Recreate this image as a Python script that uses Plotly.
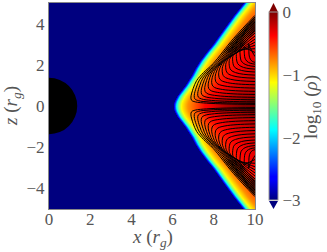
import numpy as np
import plotly.graph_objects as go

# --- values ---
x_ticks = [0, 2, 4, 6, 8, 10]
z_ticks = [-4, -2, 0, 2, 4]
cbar_ticks = [-3, -2, -1, 0]
horizon_radius = 1.37

# torus surface: height above midplane -> x where density leaves the floor
edge_z = [0, .12, .25, .37, .5, .62, .75, .87, 1, 1.25, 1.5, 1.85, 2.2, 2.6, 3, 3.66, 4.39, 5]
edge_x = [6.02, 6.03, 6.07, 6.13, 6.2, 6.29, 6.39, 6.48, 6.58, 6.74, 6.9, 7.08, 7.3, 7.6, 7.93, 8.4, 8.93, 9.42]

# density with horizontal distance inside the surface
depth = [0, .02, .08, .15, .25, .4, .7, 1.0, 1.5, 2.5, 4]
log_rho_depth = [-3, -2.8, -2.4, -1.9, -1.5, -1.1, -.8, -.65, -.45, -.3, -.2]

# extra density near the midplane, by height
mid_z = [0, .1, .3, .6, 1.0, 1.6]
mid_boost = [.3, .28, .2, .1, .04, 0]

# outer contour, from midplane at x=10, round the apex, to the top at x=10
outer_x = [10, 8.6, 7.65, 7.1, 6.92, 6.89, 7.0, 7.17, 7.5, 7.97, 8.95, 10]
outer_z = [.08, .1, .14, .2, .28, .43, .85, 1.24, 1.62, 2.06, 3.27, 4.4]

# nested contours of the upper lobe
lobe_low_z = [.08, .13, .2, .3, .42, .56, .71, .87, 1.03, 1.19, 1.35, 1.5, 1.65, 1.79, 1.92, 2.03, 2.12]
lobe_apex_x = [6.89, 7.05, 7.22, 7.39, 7.56, 7.73, 7.9, 8.07, 8.24, 8.41, 8.58, 8.75, 8.92, 9.1, 9.28, 9.48, 9.7]
lobe_up_z = [4.4, 4.32, 4.24, 4.16, 4.08, 4.0, 3.9, 3.8, 3.68, 3.54, 3.4, 3.25, 3.1, 2.95, 2.78, 2.6, 2.4]

# tightly packed contour arms in the dark upper band
band_x = [8.4, 8.95, 10.2]
band_z = [2.6, 3.27, 4.6]
band_shift = [.09, .18, .27, .36, .45, .54, .63, .72]

jet = [[0, "#00007f"], [.11, "#0000ff"], [.125, "#0000ff"], [.375, "#00ffff"], [.625, "#ffff00"], [.875, "#ff0000"], [1, "#7f0000"]]

# --- build the field ---
grid_x = np.linspace(0, 10, 207)
grid_z = np.linspace(-5, 5, 207)
X, Z = np.meshgrid(grid_x, grid_z)
d = X - np.interp(np.abs(Z), edge_z, edge_x)
rho = np.interp(d, depth, log_rho_depth, left=-3)
rho = rho + np.interp(np.abs(Z), mid_z, mid_boost) * np.clip((X - 7.0) / 3, 0, 1) * (d > 0)

# --- build the contour curves ---
apex_i = int(np.argmin(outer_x))
lx, lz = [], []
for lo, ax, up in zip(lobe_low_z, lobe_apex_x, lobe_up_z):
    sx = (10 - ax) / (10 - outer_x[apex_i])
    az0 = outer_z[apex_i]
    az = lo + (az0 - outer_z[0]) * (1 + (ax - outer_x[apex_i]) * 0.55)
    xs, zs = [], []
    for i, (ox, oz) in enumerate(zip(outer_x, outer_z)):
        xs.append(10 - (10 - ox) * sx)
        if i <= apex_i:
            zs.append(lo + (oz - outer_z[0]) * (az - lo) / (az0 - outer_z[0]))
        else:
            zs.append(az + (oz - az0) * (up - az) / (outer_z[-1] - az0))
    lx += xs + [None] + xs + [None]
    lz += zs + [None] + [-v for v in zs] + [None]
for s in band_shift:
    xs = [v + s for v in band_x]
    lx += xs + [None] + xs + [None]
    lz += band_z + [None] + [-v for v in band_z] + [None]

text = "#555555"
serif = "Liberation Serif, Times New Roman, serif"

fig = go.Figure()
fig.add_trace(go.Heatmap(
    x=grid_x, y=grid_z, z=rho, zmin=-3, zmax=0, colorscale=jet, hoverinfo="skip",
    colorbar=dict(
        thickness=9, thicknessmode="pixels", len=188, lenmode="pixels",
        x=1.068, xanchor="left", xpad=0, y=.4976, yanchor="middle", ypad=0,
        tickmode="array", tickvals=cbar_ticks, ticks="",
        outlinecolor="#999999", outlinewidth=1,
        tickfont=dict(family=serif, size=17, color=text),
    ),
))
fig.add_trace(go.Scatter(x=lx, y=lz, mode="lines", hoverinfo="skip", showlegend=False,
                         line=dict(color="#000000", width=1, shape="spline", smoothing=1.0)))

fig.add_shape(type="circle", xref="x", yref="y", x0=-horizon_radius, x1=horizon_radius,
              y0=-horizon_radius, y1=horizon_radius, fillcolor="black", line_width=0, layer="above")
# colour-bar extensions
fig.add_shape(type="path", xref="paper", yref="paper", line_width=0, fillcolor="#7f0000",
              path="M 1.068 .9565 L 1.1117 .9565 L 1.0898 1.0 Z")
fig.add_shape(type="path", xref="paper", yref="paper", line_width=0, fillcolor="#00007f",
              path="M 1.068 .0388 L 1.1117 .0388 L 1.0898 0 Z")

title_font = dict(family=serif, size=19, color=text)
centre = dict(xref="paper", yref="paper", xanchor="center", yanchor="middle", showarrow=False, font=title_font)
fig.add_annotation(text="<i>x</i> (<i>r<sub>g</sub></i>)", x=.5, y=-.141, **centre)
fig.add_annotation(text="<i>z</i> (<i>r<sub>g</sub></i>)", x=-.18, y=.5, textangle=-90, **centre)
fig.add_annotation(text="log<sub>10</sub> (<i>ρ</i>)", x=1.277, y=.495, textangle=-90, **centre)

axis = dict(showgrid=False, zeroline=False, showline=True, mirror=True, linecolor="#888888", linewidth=1,
            ticks="", tickfont=dict(family=serif, size=17, color=text), tickmode="array")
fig.update_xaxes(axis, range=[0, 10], tickvals=x_ticks, ticklabelstandoff=-5)
fig.update_yaxes(axis, range=[-5, 5], tickvals=z_ticks)
fig.update_layout(width=327, height=252, margin=dict(l=49, r=72, t=3, b=43),
                  paper_bgcolor="white", plot_bgcolor="white", showlegend=False)
fig.write_html("out.html", config=dict(displayModeBar=False),
               post_script="document.body.style.margin='0';")
